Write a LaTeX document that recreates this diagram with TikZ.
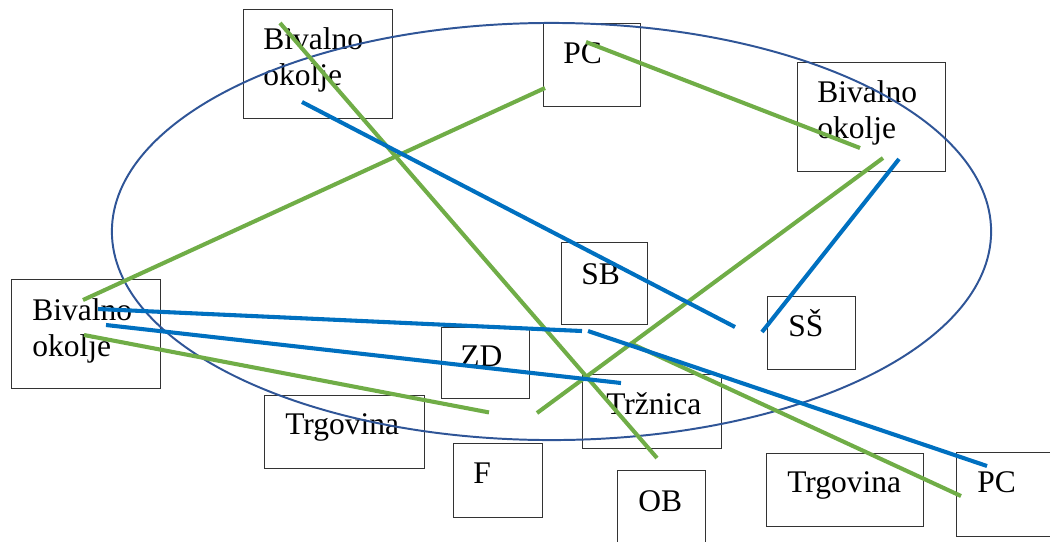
\documentclass[tikz,border=0pt]{standalone}
\usepackage{fontspec}
\setmainfont{Liberation Serif}
\usetikzlibrary{calc,shapes.geometric}
\definecolor{lgreen}{HTML}{70AD47}
\definecolor{lblue}{HTML}{0070C0}
\definecolor{rimblue}{HTML}{2F5597}

\begin{document}
\begin{tikzpicture}[x=0.025cm,y=-0.025cm]
\tikzstyle{box}=[draw=black!80,line width=1pt,anchor=north west,inner sep=0pt]
\tikzstyle{txt}=[anchor=base west,inner sep=0pt,font=\fontsize{22.4}{26.3}\selectfont]
\tikzstyle{gline}=[draw=lgreen,line width=2.9pt]
\tikzstyle{bline}=[draw=lblue,line width=2.9pt]

\useasboundingbox (0,0) rectangle (1050,541);

\node (b1) [box,minimum width=3.725cm,minimum height=2.725cm] at (243,9) {};
\node (b1t) [txt] at ($(b1.north west)+(20,40)$) {\begin{tabular}[t]{@{}l@{}}Bivalno\\okolje\end{tabular}};
\node (pc1) [box,minimum width=2.425cm,minimum height=2.075cm] at (543,23) {};
\node (pc1t) [txt] at ($(pc1.north west)+(20,40)$) {PC};
\node (b2) [box,minimum width=3.7cm,minimum height=2.725cm] at (797,62) {};
\node (b2t) [txt] at ($(b2.north west)+(20,40)$) {\begin{tabular}[t]{@{}l@{}}Bivalno\\okolje\end{tabular}};
\node (sb) [box,minimum width=2.15cm,minimum height=2.05cm] at (561,242) {};
\node (sbt) [txt] at ($(sb.north west)+(20,42)$) {SB};
\node (b3) [box,minimum width=3.725cm,minimum height=2.725cm] at (11,279) {};
\node (b3t) [txt] at ($(b3.north west)+(21,41)$) {\begin{tabular}[t]{@{}l@{}}Bivalno\\okolje\end{tabular}};
\node (zd) [box,minimum width=2.2cm,minimum height=1.775cm] at (441,327) {};
\node (zdt) [txt] at ($(zd.north west)+(19,39)$) {ZD};
\node (ss) [box,minimum width=2.2cm,minimum height=1.825cm] at (767,296) {};
\node (sst) [txt] at ($(ss.north west)+(21,40)$) {SŠ};
\node (tr) [box,minimum width=3.475cm,minimum height=1.85cm] at (582,374) {};
\node (trt) [txt] at ($(tr.north west)+(24,40)$) {Tržnica};
\node (tg1) [box,minimum width=4cm,minimum height=1.825cm] at (264,395) {};
\node (tg1t) [txt] at ($(tg1.north west)+(21,39)$) {Trgovina};
\node (f) [box,minimum width=2.225cm,minimum height=1.85cm] at (453,443) {};
\node (ft) [txt] at ($(f.north west)+(20,40)$) {F};
\node (ob) [box,minimum width=2.2cm,minimum height=1.85cm] at (617,470) {};
\node (obt) [txt] at ($(ob.north west)+(21,41)$) {OB};
\node (tg2) [box,minimum width=3.925cm,minimum height=1.825cm] at (766,453) {};
\node (tg2t) [txt] at ($(tg2.north west)+(21,39)$) {Trgovina};
\node (pc2) [box,minimum width=2.7cm,minimum height=2.1cm] at (956,452) {};
\node (pc2t) [txt] at ($(pc2.north west)+(21,40)$) {PC};

\node (area) [ellipse,draw=rimblue,line width=1.4pt,inner sep=0pt,minimum width=21.975cm,minimum height=10.425cm] at (551.5,231.5) {};

% green links
\draw [gline] ($(b1.north west)+(37,14)$) -- ($(ob.north west)+(40,-12)$);
\draw [gline] ($(b3.north west)+(72,21)$) -- ($(pc1.north west)+(2,65)$);
\draw [gline] ($(pc1.north west)+(43,19)$) -- ($(b2.north west)+(63,86)$);
\draw [gline] ($(b2.north west)+(86,96)$) -- ($(zd.north west)+(96,86)$);
\draw [gline] ($(b3.north west)+(73,56)$) -- ($(zd.south west)+(48,13)$);
\draw [gline] ($(tr.north west)+(48,-31)$) -- ($(pc2.north west)+(5,44)$);

% blue links
\draw [bline] ($(b1.north west)+(59,93)$) -- ($(ss.north west)+(-32,31)$);
\draw [bline] ($(b2.north west)+(102,97)$) -- ($(ss.north west)+(-5,36)$);
\draw [bline] ($(b3.north west)+(87,30)$) -- ($(tr.north west)+(0,-43)$);
\draw [bline] ($(tr.north west)+(6,-43)$) -- ($(pc2.north west)+(31,14)$);
\draw [bline] ($(b3.north west)+(95,46)$) -- ($(tr.north west)+(39,9)$);
\end{tikzpicture}
\end{document}
